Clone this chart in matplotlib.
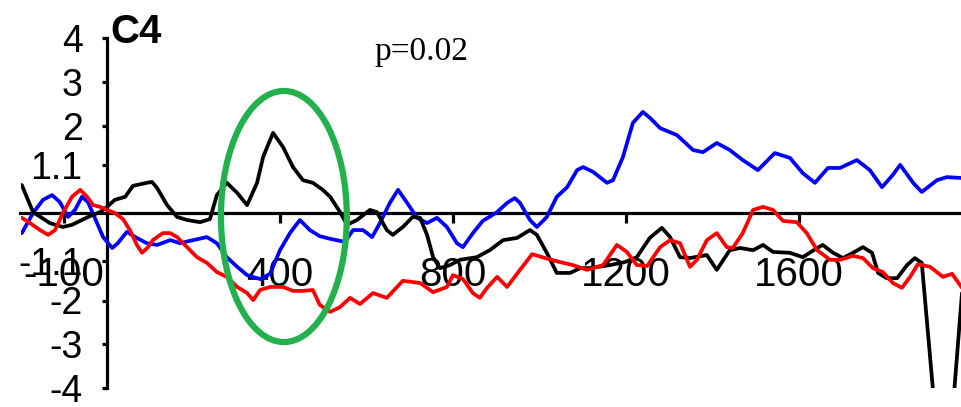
import matplotlib
matplotlib.use("Agg")
import matplotlib.pyplot as plt
from matplotlib.patches import Ellipse

# ERP waveforms at electrode C4 (time in ms, amplitude in µV)
black_t = [-197, -171, -132, -102, -81, -58, -35, -16, 0, 18, 42, 60, 92, 104, 116, 139,
           162, 185, 215, 238, 254, 277, 301, 324, 347, 361, 384, 407, 430, 453, 476, 499,
           516, 539, 555, 578, 608, 624, 647, 661, 684, 707, 724, 740, 754, 770, 793, 816,
           855, 885, 916, 948, 978, 994, 1017, 1040, 1071, 1094, 1117, 1163, 1198, 1225,
           1255, 1283, 1302, 1325, 1348, 1387, 1410, 1440, 1464, 1494, 1517, 1540, 1579,
           1609, 1642, 1655, 1679, 1702, 1725, 1748, 1769, 1783, 1803, 1827, 1850, 1868,
           1884, 1919, 1951, 1977]
black_v = [0.64, 0.02, -0.23, -0.32, -0.27, -0.16, -0.05, 0.02, 0.14, 0.30, 0.37, 0.62,
           0.69, 0.71, 0.57, 0.18, -0.09, -0.16, -0.21, -0.14, 0.41, 0.69, 0.46, 0.18,
           0.69, 1.28, 1.83, 1.51, 1.05, 0.75, 0.69, 0.53, 0.37, 0.02, -0.27, -0.16, 0.07,
           0.02, -0.39, -0.50, -0.32, -0.09, -0.11, -0.50, -1.01, -1.26, -1.19, -1.07,
           -1.01, -0.85, -0.62, -0.57, -0.39, -0.50, -0.91, -1.37, -1.37, -1.26, -1.26,
           -1.19, -1.12, -1.01, -0.57, -0.34, -0.55, -1.01, -1.03, -0.96, -1.30, -0.85,
           -0.80, -0.85, -0.73, -0.89, -0.91, -1.01, -0.80, -0.73, -0.91, -1.03, -0.91,
           -0.78, -0.91, -1.37, -1.49, -1.49, -1.19, -1.03, -1.14, -5.07, -5.07, -1.83]

blue_t = [-197, -171, -148, -127, -109, -90, -74, -58, -44, -23, -9, 12, 25, 46, 69, 92,
          116, 146, 169, 199, 231, 254, 277, 301, 324, 354, 377, 400, 423, 446, 469, 492,
          516, 550, 569, 592, 613, 631, 654, 673, 694, 717, 740, 763, 786, 809, 823, 846,
          869, 902, 925, 943, 955, 978, 994, 1017, 1040, 1064, 1087, 1101, 1124, 1156,
          1170, 1193, 1216, 1239, 1256, 1279, 1318, 1355, 1378, 1410, 1440, 1470, 1505,
          1544, 1579, 1609, 1637, 1667, 1695, 1734, 1764, 1792, 1817, 1834, 1864, 1884,
          1919, 1942, 1977]
blue_v = [-0.46, 0.00, 0.30, 0.41, 0.25, -0.09, 0.07, 0.37, 0.25, -0.23, -0.55, -0.80,
          -0.69, -0.43, -0.57, -0.69, -0.73, -0.62, -0.69, -0.62, -0.55, -0.69, -1.01,
          -1.23, -1.42, -1.51, -1.39, -0.85, -0.46, -0.16, -0.39, -0.53, -0.59, -0.66,
          -0.39, -0.39, -0.55, -0.23, 0.23, 0.53, 0.23, -0.11, -0.23, -0.11, -0.32,
          -0.69, -0.78, -0.46, -0.18, 0.02, 0.23, 0.34, 0.23, -0.16, -0.32, -0.09, 0.37,
          0.59, 0.98, 1.05, 0.94, 0.69, 0.75, 1.28, 2.06, 2.31, 2.17, 1.94, 1.78, 1.44,
          1.39, 1.60, 1.44, 1.21, 0.98, 1.37, 1.26, 0.91, 0.69, 1.03, 1.03, 1.21, 0.98,
          0.59, 0.87, 1.10, 0.69, 0.48, 0.75, 0.82, 0.80]

red_t = [-197, -178, -155, -136, -120, -102, -81, -62, -46, -32, -16, 0, 18, 37, 53, 69,
         81, 95, 106, 129, 146, 162, 185, 208, 231, 254, 277, 301, 324, 338, 354, 377,
         407, 430, 453, 476, 492, 516, 539, 562, 585, 615, 647, 684, 724, 754, 786, 800,
         823, 846, 862, 879, 902, 925, 955, 983, 1013, 1047, 1077, 1110, 1147, 1179,
         1202, 1225, 1249, 1279, 1302, 1325, 1348, 1364, 1387, 1410, 1433, 1447, 1470,
         1494, 1517, 1540, 1563, 1595, 1618, 1642, 1672, 1695, 1725, 1748, 1771, 1794,
         1817, 1838, 1857, 1875, 1903, 1933, 1954, 1977]
red_v = [-0.11, -0.23, -0.39, -0.50, -0.39, 0.00, 0.37, 0.53, 0.37, 0.18, 0.14, 0.07,
         0.00, -0.14, -0.39, -0.73, -0.91, -0.78, -0.62, -0.46, -0.46, -0.55, -0.78,
         -1.01, -1.14, -1.35, -1.46, -1.69, -1.83, -1.99, -1.76, -1.69, -1.69, -1.78,
         -1.78, -1.76, -2.10, -2.26, -2.15, -1.94, -2.08, -1.83, -1.94, -1.55, -1.60,
         -1.81, -1.69, -1.42, -1.51, -1.83, -1.94, -1.71, -1.46, -1.69, -1.30, -0.94,
         -1.03, -1.12, -1.19, -1.30, -1.19, -0.73, -0.89, -1.19, -1.21, -0.78, -0.62,
         -0.69, -1.23, -1.07, -0.62, -0.46, -0.78, -0.80, -0.46, 0.07, 0.14, 0.07,
         -0.18, -0.21, -0.46, -0.85, -1.07, -1.07, -0.98, -1.03, -1.26, -1.35, -1.60,
         -1.71, -1.46, -1.17, -1.23, -1.46, -1.39, -1.71]

x_tick_pos = [-100, 400, 800, 1200, 1600]
x_tick_labels = ["-100", "400", "800", "1200", "1600"]
y_tick_pos = [4, 3, 2, 1.1, -1.1, -2, -3, -4]
y_tick_labels = ["4", "3", "2", "1.1", "-1.1", "-2", "-3", "-4"]

electrode = "C4"
p_text = "p=0.02"

# highlighted window (ms, µV)
win_center = (409, -0.08)
win_width = 291
win_height = 5.74

W, H = 962, 407
fig = plt.figure(figsize=(W / 100, H / 100), dpi=100)
ax = fig.add_axes([20.5 / W, (H - 388) / H, 941.5 / W, 350 / H])
ax.set_xlim(-200, 1977)
ax.set_ylim(-4, 4)

lw = 2.7
style = dict(lw=lw, solid_joinstyle="round", solid_capstyle="round", zorder=3)
ax.plot(blue_t, blue_v, color="#0000ff", **style)
ax.plot(black_t, black_v, color="black", **style)
ax.plot(red_t, red_v, color="#ff0000", **style)

ax.add_patch(Ellipse(win_center, win_width, win_height, fill=False,
                     edgecolor="#22b14c", lw=4.5, zorder=5))

for s in ("top", "right"):
    ax.spines[s].set_visible(False)
ax.spines["left"].set_position(("data", 0))
ax.spines["bottom"].set_position(("data", 0))
ax.spines["left"].set_bounds(-4, 4)
ax.spines["left"].set_linewidth(2.3)
ax.spines["bottom"].set_linewidth(2.3)
ax.spines["bottom"].set_zorder(2)

font = "Liberation Sans"
ax.set_xticks(x_tick_pos)
ax.set_xticklabels(x_tick_labels, fontsize=29, family=font)
ax.set_yticks(y_tick_pos)
ax.set_yticklabels(y_tick_labels, fontsize=27, family=font)
ax.tick_params(axis="x", direction="out", length=7, width=2.3, pad=24)
ax.tick_params(axis="y", direction="out", length=3.6, width=2.3, pad=14)
ax.patch.set_visible(False)

fig.text(110 / W, 1 - 43 / H, electrode, fontsize=29, fontweight="bold",
         family=font, ha="left", va="baseline")
fig.text(421 / W, 1 - 60 / H, p_text, fontsize=24, family="Liberation Serif",
         ha="center", va="baseline")

fig.savefig("out.png", dpi=100)
